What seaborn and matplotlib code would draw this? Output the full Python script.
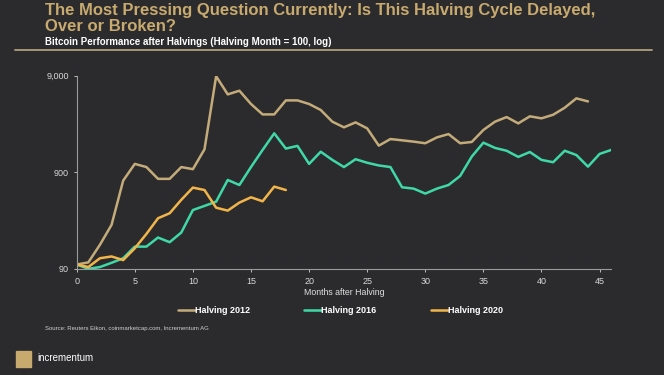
import numpy as np
import pandas as pd
import matplotlib
matplotlib.use("Agg")
import matplotlib.pyplot as plt
import matplotlib.ticker as mticker
import seaborn as sns

# Bitcoin performance after halvings (halving month = 100)
halving_2012 = [100, 105, 160, 257, 738, 1100, 1020, 770, 770, 1020, 970, 1560, 8900, 5770, 6300,
                4590, 3580, 3580, 5000, 5000, 4590, 3980, 3010, 2630, 2960, 2565, 1700, 1990, 1930,
                1870, 1800, 2070, 2240, 1800, 1855, 2470, 3010, 3360, 2890, 3420, 3260, 3550, 4200,
                5250, 4880]
halving_2016 = [100, 90, 94, 104, 116, 153, 153, 190, 170, 214, 366, 404, 447, 750, 665, 1020, 1535,
                2280, 1585, 1690, 1100, 1470, 1210, 1020, 1230, 1130, 1060, 1020, 630, 610, 542, 610,
                665, 825, 1310, 1825, 1610, 1505, 1300, 1460, 1210, 1145, 1505, 1360, 1030, 1395, 1535]
halving_2020 = [100, 94, 116, 121, 111, 147, 207, 301, 339, 467, 625, 590, 387, 361, 437, 496, 451,
                640, 590]

series_names = ["Halving 2012", "Halving 2016", "Halving 2020"]
series_values = [halving_2012, halving_2016, halving_2020]
colors = ["#c4ac7a", "#3fd9a8", "#f2b54a"]
x_ticks = list(range(0, 50, 5))
y_ticks = [90, 900, 9000]
y_labels = ["90", "900", "9,000"]

rows = []
for name, vals in zip(series_names, series_values):
    for m, v in enumerate(vals):
        rows.append({"month": m, "value": v, "series": name})
df = pd.DataFrame(rows)

bg = "#2b2b2e"
gold = "#c8aa6e"
sns.set_style("dark")
plt.rcParams["font.family"] = ["Liberation Sans", "DejaVu Sans"]

fig = plt.figure(figsize=(6.64, 3.75), dpi=100, facecolor=bg)
ax = fig.add_axes([0.1155, 0.283, 0.805, 0.515])
ax.set_facecolor(bg)

sns.lineplot(data=df, x="month", y="value", hue="series", palette=colors,
             linewidth=1.8, ax=ax)

ax.set_yscale("log")
ax.set_ylim(90, 9000)
ax.set_xlim(0, 46)
ax.yaxis.set_major_locator(mticker.FixedLocator(y_ticks))
ax.yaxis.set_major_formatter(mticker.FixedFormatter(y_labels))
ax.yaxis.set_minor_locator(mticker.NullLocator())
ax.set_xticks(x_ticks)
ax.tick_params(colors="#d8d8d8", labelsize=6.5, length=2, width=0.6, direction="out",
               bottom=True, left=True)
for side in ["top", "right"]:
    ax.spines[side].set_visible(False)
for side in ["left", "bottom"]:
    ax.spines[side].set_visible(True)
    ax.spines[side].set_color("#9a9a9a")
    ax.spines[side].set_linewidth(0.8)
ax.grid(False)
ax.set_ylabel("")
ax.set_xlabel("Months after Halving", color="#e0e0e0", fontsize=6.3, labelpad=2)

leg = ax.legend(loc="center", bbox_to_anchor=(0.493, -0.218), ncol=3, frameon=False,
                fontsize=6.5, handlelength=1.9, handletextpad=0.0, columnspacing=6.0)
for t in leg.get_texts():
    t.set_color("white")
    t.set_fontweight("bold")

fig.text(0.068, 0.993, "The Most Pressing Question Currently: Is This Halving Cycle Delayed,\nOver or Broken?",
         color=gold, fontsize=12, fontweight="bold", va="top", ha="left", linespacing=1.15)
fig.text(0.068, 0.888, "Bitcoin Performance after Halvings (Halving Month = 100, log)",
         color="white", fontsize=7.0, fontweight="bold", va="center", ha="left")
fig.add_artist(plt.Line2D([0.023, 0.982], [0.867, 0.867], color="#b0a07c", linewidth=1.3))
fig.text(0.068, 0.123, "Source: Reuters Eikon, coinmarketcap.com, Incrementum AG",
         color="#d0d0d0", fontsize=4.3, va="center", ha="left")
fig.text(0.056, 0.045, "incrementum", color="white", fontsize=7, va="center", ha="left")
fig.add_artist(plt.Rectangle((0.024, 0.021), 0.022, 0.042, color=gold))

fig.savefig("out.png", dpi=100, facecolor=bg)
